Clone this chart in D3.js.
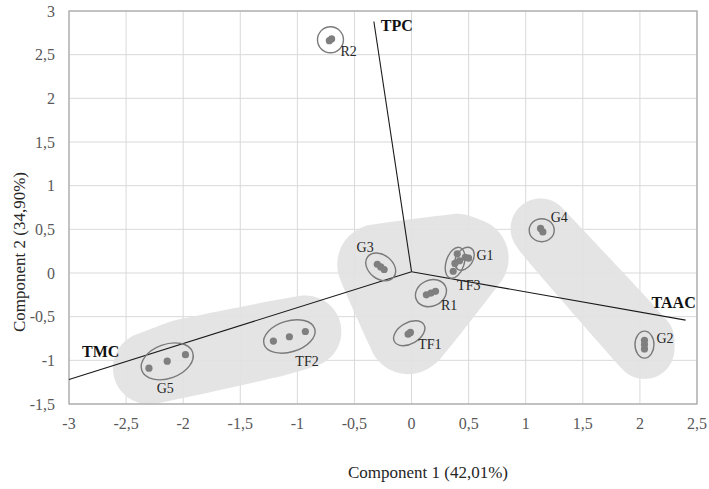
<!DOCTYPE html>
<html>
<head>
<meta charset="utf-8">
<script src="https://cdn.jsdelivr.net/npm/d3@7"></script>
<style>
  body { margin: 0; background: #fff; }
  text { font-family: "Liberation Serif", "Times New Roman", serif; }
</style>
</head>
<body>
<div id="chart"></div>
<script>
// ---- data ----
const xTickValues = [-3, -2.5, -2, -1.5, -1, -0.5, 0, 0.5, 1, 1.5, 2, 2.5];
const yTickValues = [-1.5, -1, -0.5, 0, 0.5, 1, 1.5, 2, 2.5, 3];

// [cluster, component 1, component 2]
const scores = [
  ["R2", -0.72, 2.66], ["R2", -0.70, 2.68],
  ["G3", -0.30, 0.10], ["G3", -0.27, 0.07], ["G3", -0.24, 0.04],
  ["G1", 0.42, 0.14], ["G1", 0.47, 0.18], ["G1", 0.50, 0.17],
  ["TF3", 0.40, 0.22], ["TF3", 0.38, 0.11], ["TF3", 0.365, 0.02],
  ["R1", 0.13, -0.25], ["R1", 0.17, -0.23], ["R1", 0.21, -0.21],
  ["TF1", -0.03, -0.70], ["TF1", -0.01, -0.68],
  ["G4", 1.13, 0.51], ["G4", 1.15, 0.47],
  ["G2", 2.04, -0.77], ["G2", 2.04, -0.82], ["G2", 2.04, -0.87],
  ["G5", -2.30, -1.09], ["G5", -2.14, -1.01], ["G5", -1.98, -0.935],
  ["TF2", -1.21, -0.78], ["TF2", -1.07, -0.73], ["TF2", -0.93, -0.67]
];

// shaded groups of clusters
const groups = [["G5", "TF2"], ["G3", "G1", "TF3", "R1", "TF1"], ["G4", "G2"]];

// loading vectors [name, component 1, component 2]
const origin = [0, 0.015];
const loadings = [["TPC", -0.33, 2.88], ["TAAC", 2.40, -0.54], ["TMC", -3.0, -1.22]];

const xTitle = "Component 1 (42,01%)";
const yTitle = "Component 2 (34,90%)";

// ---- layout ----
const width = 709, height = 489;
const plot = {left: 69, right: 697, top: 11, bottom: 404};
const groupPad = [36, 40, 30];
// ellipse rx, ry, rotation (deg)
const ellipseStyle = {
  R2: [13, 13, 0], G3: [16.5, 12, 38], G1: [12.5, 8.5, -58], TF3: [16, 9, -72],
  R1: [16, 13, -25], TF1: [17, 10.5, -30], G4: [12.5, 11.5, 0], G2: [13.5, 9.5, 90],
  G5: [27, 17, -20], TF2: [26.5, 15.5, -17]
};
const labelOffset = {
  R2: [10, 16, "start"], G3: [-7, -15, "end"], G1: [12, 1, "start"], TF3: [2, 27, "start"],
  R1: [10, 17, "start"], TF1: [9, 16, "start"], G4: [9, -8, "start"], G2: [12, -2, "start"],
  G5: [-2, 32, "middle"], TF2: [6, 30, "start"]
};
const vectorLabelOffset = {TPC: [7, 10], TAAC: [-34, -12], TMC: [13, -23]};

const locale = d3.formatLocale({decimal: ",", thousands: ".", grouping: [3], currency: ["", ""], minus: "-"});
const fmt = locale.format("~g");

const svg = d3.select("#chart")
    .append("svg")
    .attr("width", width)
    .attr("height", height);

svg.append("rect").attr("width", width).attr("height", height).attr("fill", "#fff");

let xScale = d3.scaleLinear().domain([-3, 2.5]).range([plot.left, plot.right]);
let yScale = d3.scaleLinear().domain([-1.5, 3]).range([plot.bottom, plot.top]);

// gridlines
svg.append("g")
    .selectAll("line")
    .data(xTickValues)
    .join("line")
    .attr("x1", d => xScale(d)).attr("x2", d => xScale(d))
    .attr("y1", plot.top).attr("y2", plot.bottom)
    .attr("stroke", "#d9d9d9");
svg.append("g")
    .selectAll("line")
    .data(yTickValues)
    .join("line")
    .attr("x1", plot.left).attr("x2", plot.right)
    .attr("y1", d => yScale(d)).attr("y2", d => yScale(d))
    .attr("stroke", "#d9d9d9");

// clusters
let clusterNames = Array.from(new Set(scores.map(d => d[0])));
let clusters = clusterNames.map(function (name) {
    let pts = scores.filter(d => d[0] === name).map(d => [xScale(d[1]), yScale(d[2])]);
    return {name: name, pts: pts, cx: d3.mean(pts, p => p[0]), cy: d3.mean(pts, p => p[1])};
});

// shaded group blobs
groups.forEach(function (g, i) {
    let cloud = [];
    scores.filter(d => g.includes(d[0])).forEach(function (d) {
        let cx = xScale(d[1]), cy = yScale(d[2]);
        for (let k = 0; k < 36; k++) {
            let a = k / 36 * Math.PI * 2;
            cloud.push([cx + groupPad[i] * Math.cos(a), cy + groupPad[i] * Math.sin(a)]);
        }
    });
    let hull = d3.polygonHull(cloud);
    svg.append("path")
        .attr("d", d3.line().curve(d3.curveCatmullRomClosed)(hull))
        .attr("fill", "#e2e2e2")
        .attr("opacity", 0.92);
});

// plot border
svg.append("rect")
    .attr("x", plot.left).attr("y", plot.top)
    .attr("width", plot.right - plot.left).attr("height", plot.bottom - plot.top)
    .attr("fill", "none")
    .attr("stroke", "#a6a6a6")
    .attr("stroke-width", 1.2);

// loading vectors
svg.append("g")
    .selectAll("line")
    .data(loadings)
    .join("line")
    .attr("x1", xScale(origin[0])).attr("y1", yScale(origin[1]))
    .attr("x2", d => xScale(d[1])).attr("y2", d => yScale(d[2]))
    .attr("stroke", "#1a1a1a")
    .attr("stroke-width", 1.1);
svg.append("g")
    .selectAll("text")
    .data(loadings)
    .join("text")
    .attr("x", d => xScale(d[1]) + vectorLabelOffset[d[0]][0])
    .attr("y", d => yScale(d[2]) + vectorLabelOffset[d[0]][1])
    .style("font-size", "16px")
    .style("font-weight", "bold")
    .attr("fill", "#111")
    .text(d => d[0]);

// cluster ellipses
svg.append("g")
    .selectAll("ellipse")
    .data(clusters)
    .join("ellipse")
    .attr("rx", d => ellipseStyle[d.name][0])
    .attr("ry", d => ellipseStyle[d.name][1])
    .attr("transform", d => `translate(${d.cx},${d.cy}) rotate(${ellipseStyle[d.name][2]})`)
    .attr("fill", "none")
    .attr("stroke", "#7a7a7a")
    .attr("stroke-width", 1.4);

// points
svg.append("g")
    .selectAll("circle")
    .data(scores)
    .join("circle")
    .attr("cx", d => xScale(d[1]))
    .attr("cy", d => yScale(d[2]))
    .attr("r", 3.6)
    .attr("fill", "#7f7f7f");

// cluster labels
svg.append("g")
    .selectAll("text")
    .data(clusters)
    .join("text")
    .attr("x", d => d.cx + labelOffset[d.name][0])
    .attr("y", d => d.cy + labelOffset[d.name][1])
    .attr("text-anchor", d => labelOffset[d.name][2])
    .style("font-size", "14px")
    .attr("fill", "#262626")
    .text(d => d.name);

// axes tick labels
svg.append("g")
    .selectAll("text")
    .data(xTickValues)
    .join("text")
    .attr("x", d => xScale(d))
    .attr("y", plot.bottom + 25)
    .attr("text-anchor", "middle")
    .style("font-size", "16px")
    .attr("fill", "#595959")
    .text(d => fmt(d));
svg.append("g")
    .selectAll("text")
    .data(yTickValues)
    .join("text")
    .attr("x", plot.left - 14)
    .attr("y", d => yScale(d) + 5.5)
    .attr("text-anchor", "end")
    .style("font-size", "16px")
    .attr("fill", "#595959")
    .text(d => fmt(d));

// axis titles
svg.append("text")
    .attr("x", 428)
    .attr("y", 478)
    .attr("text-anchor", "middle")
    .style("font-size", "17px")
    .attr("fill", "#262626")
    .text(xTitle);
svg.append("text")
    .attr("transform", "translate(25,252) rotate(-90)")
    .attr("text-anchor", "middle")
    .style("font-size", "17px")
    .attr("fill", "#262626")
    .text(yTitle);
</script>
</body>
</html>
